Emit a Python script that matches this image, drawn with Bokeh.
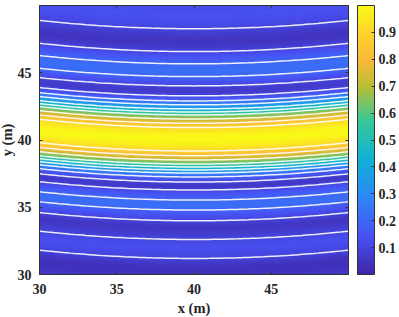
import numpy as np
from bokeh.plotting import figure
from bokeh.models import LinearAxis, FixedTicker, LinearColorMapper, ColorBar, Range1d
from bokeh.embed import file_html
from bokeh.resources import INLINE

# Intensity profile read along the x = 40 column
profile_y = [29.3, 29.7, 30.0, 30.32, 30.69, 31.19, 31.96, 32.63, 33.08, 33.52, 33.99, 34.42, 34.79, 35.16,
             35.53, 35.90, 36.28, 36.57, 36.87, 37.25, 37.54, 37.77, 37.99, 38.21, 38.51, 38.83, 39.18,
             39.63, 40.07, 40.52, 40.92, 41.24, 41.56, 41.86, 42.08, 42.31, 42.61, 42.90, 43.28, 43.65,
             44.02, 44.39, 44.71, 45.21, 45.66, 46.11, 46.57, 46.92, 47.30, 47.74, 48.27, 48.79, 49.31, 50.0]
profile_v = [0.07, 0.05, 0.04, 0.035, 0.05, 0.10, 0.135, 0.10, 0.07, 0.05, 0.10, 0.15, 0.20, 0.225,
             0.20, 0.16, 0.10, 0.05, 0.10, 0.20, 0.30, 0.40, 0.50, 0.60, 0.70, 0.80, 0.90,
             0.97, 1.00, 0.97, 0.90, 0.80, 0.70, 0.60, 0.50, 0.40, 0.30, 0.20, 0.10, 0.06,
             0.10, 0.15, 0.20, 0.225, 0.20, 0.155, 0.10, 0.065, 0.045, 0.06, 0.10, 0.125, 0.14, 0.125]

# Upward bend of the fringes against x
bend_x = [30, 32, 34, 36, 38, 40, 42, 44, 46, 48, 50]
bend_y = [0.62, 0.40, 0.23, 0.10, 0.03, 0.0, 0.03, 0.10, 0.23, 0.40, 0.62]

# Contour positions at x = 40
contour_y = [48.27, 46.57, 45.66, 44.71, 44.02, 43.28, 42.90, 42.61, 42.31, 42.08, 41.86, 41.56, 41.24, 40.92,
             39.18, 38.83, 38.51, 38.21, 37.99, 37.77, 37.54, 37.25, 36.87, 36.28, 35.53, 34.79, 33.99, 32.60, 31.19]

x_ticks = [30, 35, 40, 45]
y_ticks = [30, 35, 40, 45]
cbar_ticks = [0.1, 0.2, 0.3, 0.4, 0.5, 0.6, 0.7, 0.8, 0.9]

color_stops = [0.0, 0.143, 0.286, 0.429, 0.571, 0.70, 0.80, 0.90, 1.0]
color_anchors = [(62, 38, 168), (72, 82, 244), (46, 135, 247), (18, 177, 214),
                 (55, 200, 151), (185, 190, 55), (250, 185, 55), (254, 212, 45), (249, 251, 21)]

t = np.linspace(0, 1, 256)
a = np.array(color_anchors, dtype=float)
palette = ["#%02x%02x%02x" % tuple(int(round(np.interp(s, color_stops, a[:, c]))) for c in range(3)) for s in t]

gx = np.linspace(30, 50, 320)
gy = np.linspace(30, 50, 400)
bend_fit = np.polyfit(bend_x, bend_y, 2)
bend_on_grid = np.polyval(bend_fit, gx)
field = np.array([np.interp(yy - bend_on_grid, profile_y, profile_v) for yy in gy])
# soften the kinks between read-off knots, as in the smooth reference
kernel = np.array([1, 4, 7, 9, 7, 4, 1], dtype=float)
kernel /= kernel.sum()
pad = len(kernel) // 2
field = np.apply_along_axis(lambda c: np.convolve(np.pad(c, pad, mode="edge"), kernel, "valid"), 0, field)

line_x = list(np.linspace(30, 50, 81))
line_bend = np.polyval(bend_fit, line_x)

FONT = "Liberation Serif"
INK = "#333333"

p = figure(width=None, height=None, frame_width=309, frame_height=269,
           x_range=Range1d(30, 50), y_range=Range1d(30, 50),
           output_backend="svg", toolbar_location=None,
           min_border_left=0, min_border_top=5, min_border_bottom=0, min_border_right=0,
           margin=(0, 0, 0, -5), outline_line_color=INK, outline_line_width=1)
p.grid.visible = False

mapper = LinearColorMapper(palette=palette, low=0.0, high=1.0)
p.image(image=[field], x=30, y=30, dw=20, dh=20, color_mapper=mapper)
p.multi_line(xs=[line_x for _ in contour_y],
             ys=[list(c + line_bend) for c in contour_y],
             line_color="white", line_width=1.5, line_alpha=0.9)

for ax, ticks in ((p.xaxis[0], x_ticks), (p.yaxis[0], y_ticks)):
    ax.ticker = FixedTicker(ticks=ticks)
    ax.major_tick_in = 3
    ax.major_tick_out = 0
    ax.minor_tick_line_color = None
    ax.axis_line_color = INK
    ax.major_tick_line_color = INK
    ax.major_label_text_font = FONT
    ax.major_label_text_font_style = "bold"
    ax.major_label_text_font_size = "14px"
    ax.major_label_text_color = "#262626"
    ax.axis_label_text_font = FONT
    ax.axis_label_text_font_style = "bold"
    ax.axis_label_text_font_size = "14.5px"
    ax.axis_label_text_color = "#262626"
p.xaxis[0].axis_label = "x (m)"
p.yaxis[0].axis_label = "y (m)"
p.xaxis[0].major_label_standoff = 9
p.yaxis[0].major_label_standoff = 8
p.xaxis[0].axis_label_standoff = 3
p.yaxis[0].axis_label_standoff = 0

for loc, ticks in (("above", x_ticks), ("right", y_ticks)):
    ax = LinearAxis(ticker=FixedTicker(ticks=ticks),
                    major_label_overrides={v: "" for v in ticks},
                    major_tick_in=3, major_tick_out=0, minor_tick_line_color=None,
                    axis_line_color=INK, major_tick_line_color=INK, major_label_standoff=0)
    p.add_layout(ax, loc)

cb = ColorBar(color_mapper=mapper, ticker=FixedTicker(ticks=cbar_ticks), width=17, height=269,
              padding=0, margin=0, location=(9, 0),
              major_tick_in=3, major_tick_line_color=INK, minor_tick_line_color=None,
              bar_line_color=INK, bar_line_width=1, border_line_color=None,
              major_label_text_font=FONT, major_label_text_font_style="bold",
              major_label_text_font_size="14px", major_label_text_color="#262626",
              label_standoff=4, background_fill_color=None)
p.add_layout(cb, "right")

open("out.html", "w").write(file_html(p, INLINE))
